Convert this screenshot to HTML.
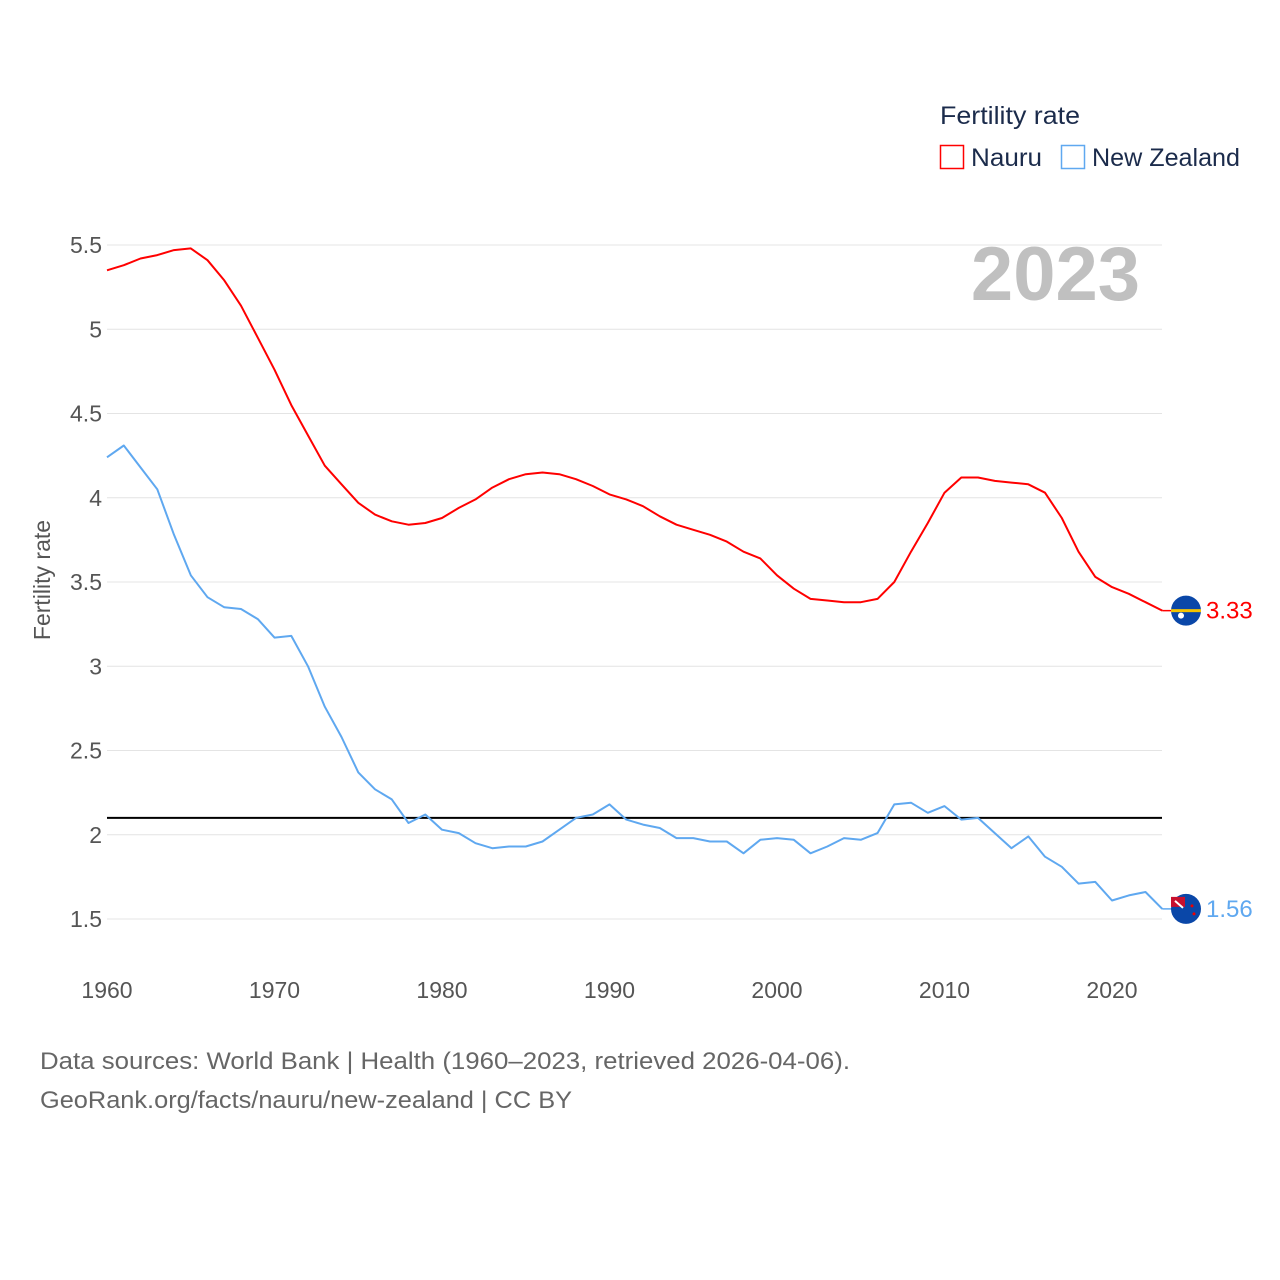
<!DOCTYPE html>
<html><head><meta charset="utf-8"><style>
html,body{margin:0;padding:0;background:#fff;}
svg{display:block;font-family:"Liberation Sans",sans-serif;}
</style></head><body>
<svg id="chart" width="1280" height="1280" viewBox="0 0 1280 1280">
<g id="grid"></g>
<g id="yticks"></g>
<g id="xticks"></g>
<text x="0" y="0" transform="translate(50,580) rotate(-90)" text-anchor="middle" font-size="23" fill="#555">Fertility rate</text>
<text x="1140" y="300" text-anchor="end" font-size="76" font-weight="bold" fill="#c0c0c0">2023</text>
<g>
<text x="940" y="124" font-size="25" fill="#1b2b4b" textLength="140" lengthAdjust="spacingAndGlyphs">Fertility rate</text>
<g>
<rect x="940.5" y="145.5" width="23" height="23" fill="none" stroke="#ff0000" stroke-width="1.5"/>
<text x="971" y="166" font-size="25" fill="#1b2b4b" textLength="71" lengthAdjust="spacingAndGlyphs">Nauru</text></g>
<g>
<rect x="1061.5" y="145.5" width="23" height="23" fill="none" stroke="#5fa8f0" stroke-width="1.5"/>
<text x="1092" y="166" font-size="25" fill="#1b2b4b" textLength="148" lengthAdjust="spacingAndGlyphs">New Zealand</text></g>
</g>
<g id="series"></g>
<g id="ends"></g>
<text x="40" y="1069" font-size="24" fill="#666" textLength="810" lengthAdjust="spacingAndGlyphs">Data sources: World Bank | Health (1960–2023, retrieved 2026-04-06).</text>
<text x="40" y="1108" font-size="24" fill="#666" textLength="532" lengthAdjust="spacingAndGlyphs">GeoRank.org/facts/nauru/new-zealand | CC BY</text>
</svg>
<script>
const years=[];for(let y=1960;y<=2023;y++)years.push(y);
const nauru=[5.35,5.38,5.42,5.44,5.47,5.48,5.41,5.29,5.14,4.95,4.76,4.55,4.37,4.19,4.08,3.97,3.90,3.86,3.84,3.85,3.88,3.94,3.99,4.06,4.11,4.14,4.15,4.14,4.11,4.07,4.02,3.99,3.95,3.89,3.84,3.81,3.78,3.74,3.68,3.64,3.54,3.46,3.40,3.39,3.38,3.38,3.40,3.50,3.68,3.85,4.03,4.12,4.12,4.10,4.09,4.08,4.03,3.88,3.68,3.53,3.47,3.43,3.38,3.33];
const newZealand=[4.24,4.31,4.18,4.05,3.78,3.54,3.41,3.35,3.34,3.28,3.17,3.18,3.00,2.76,2.58,2.37,2.27,2.21,2.07,2.12,2.03,2.01,1.95,1.92,1.93,1.93,1.96,2.03,2.10,2.12,2.18,2.09,2.06,2.04,1.98,1.98,1.96,1.96,1.89,1.97,1.98,1.97,1.89,1.93,1.98,1.97,2.01,2.18,2.19,2.13,2.17,2.09,2.10,2.01,1.92,1.99,1.87,1.81,1.71,1.72,1.61,1.64,1.66,1.56];
const yTicks=[1.5,2,2.5,3,3.5,4,4.5,5,5.5];
const xTicks=[1960,1970,1980,1990,2000,2010,2020];
const replacement=2.1;
const NS='http://www.w3.org/2000/svg';
const X=y=>107+(y-1960)*16.75;
const Y=v=>919-(v-1.5)*168.5;
function mk(t,a,p){const e=document.createElementNS(NS,t);for(const k in a)e.setAttribute(k,a[k]);p.appendChild(e);return e;}
const grid=document.getElementById('grid'),yt=document.getElementById('yticks'),xt=document.getElementById('xticks');
yTicks.forEach(v=>{
 const l=mk('line',{x1:107,x2:1162,y1:Y(v),y2:Y(v),stroke:'#e4e4e4','stroke-width':1},grid);
 
 
 const t=mk('text',{x:102,y:Y(v)+8,'text-anchor':'end','font-size':23,fill:'#555'},yt);
 t.textContent=String(v);
 
 
});
xTicks.forEach(v=>{
 const t=mk('text',{x:X(v),y:998,'text-anchor':'middle','font-size':23,fill:'#555'},xt);
 t.textContent=String(v);
 
 
});
const s=document.getElementById('series');
const rl=mk('line',{x1:107,x2:1162,y1:Y(replacement),y2:Y(replacement),stroke:'#000','stroke-width':2},s);


function line(vals,color,name){
 const d=vals.map((v,i)=>(i?'L':'M')+X(years[i]).toFixed(1)+','+Y(v).toFixed(1)).join('');
 const p=mk('path',{d:d,fill:'none',stroke:color,'stroke-width':2,'stroke-linejoin':'round'},s);
 
 
}
line(nauru,'#ff0000','nauru-line');
line(newZealand,'#5fa8f0','new-zealand-line');
const ends=document.getElementById('ends');
function endMark(vals,color,name,flag){
 const v=vals[vals.length-1],y=Y(v),x2=X(2023);
 const g=mk('g',{},ends);
 
 
 mk('line',{x1:x2,x2:1172,y1:y,y2:y,stroke:color,'stroke-width':1.5},g);
 mk('circle',{cx:1186,cy:y,r:15,fill:'#0a47a8'},g);
 if(flag==='nr'){
  mk('rect',{x:1171,y:y-1.5,width:30,height:3,fill:'#f5c400'},g);
  mk('circle',{cx:1181,cy:y+5,r:3,fill:'#fff'},g);
 } else {
  mk('path',{d:`M1171,${y-12} h14 v10 h-14z`,fill:'#c8102e'},g);
  mk('path',{d:`M1175,${y-8} l8,7`,stroke:'#fff','stroke-width':2},g);
  mk('circle',{cx:1192,cy:y-3,r:1.5,fill:'#e00'},g);
  mk('circle',{cx:1194,cy:y+5,r:1.5,fill:'#e00'},g);
 }
 const t=mk('text',{x:1206,y:y+8,'font-size':24,fill:color},g);
 t.textContent=v.toFixed(2);
 
 
}
endMark(nauru,'#ff0000','nauru','nr');
endMark(newZealand,'#5fa8f0','new-zealand','nz');
</script>
</body></html>
